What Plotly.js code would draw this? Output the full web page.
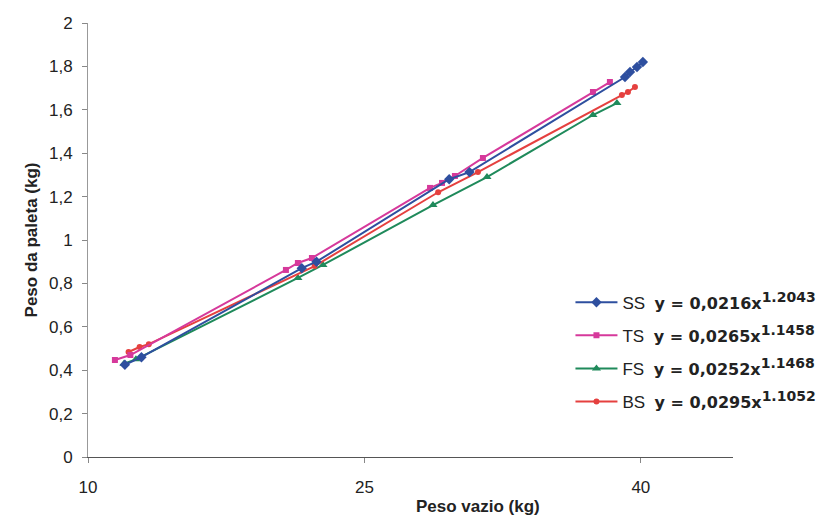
<!DOCTYPE html>
<html>
<head>
<meta charset="utf-8">
<script src="https://cdn.plot.ly/plotly-3.0.1.min.js"></script>
<style>html,body{margin:0;padding:0;background:#fff;}#chart{width:833px;height:520px;}</style>
</head>
<body>
<div id="chart"></div>
<script>
// Data
var seriesNames = ["SS", "TS", "FS", "BS"];
var eqCoef = ["y = 0,0216x", "y = 0,0265x", "y = 0,0252x", "y = 0,0295x"];
var eqExp = ["1.2043", "1.1458", "1.1468", "1.1052"];

var SS_x = [12.0, 12.9, 21.6, 22.4, 29.6, 30.7, 39.14, 39.41, 39.79, 40.11];
var SS_y = [0.425, 0.46, 0.87, 0.90, 1.28, 1.313, 1.751, 1.774, 1.797, 1.82];

var TS_x = [11.46, 12.3, 20.74, 21.39, 22.15, 28.56, 29.21, 29.91, 31.43, 37.40, 38.32];
var TS_y = [0.447, 0.47, 0.862, 0.894, 0.917, 1.240, 1.263, 1.295, 1.378, 1.682, 1.728];

var FS_x = [11.95, 12.6, 21.39, 22.75, 28.72, 31.65, 37.40, 38.70];
var FS_y = [0.43, 0.45, 0.825, 0.885, 1.161, 1.29, 1.576, 1.631];

var BS_x = [12.2, 12.8, 13.3, 22.3, 29.0, 31.16, 38.97, 39.30, 39.68];
var BS_y = [0.484, 0.507, 0.52, 0.88, 1.22, 1.313, 1.668, 1.682, 1.705];

var xTickVals = [10, 25, 40];
var xTickText = ["10", "25", "40"];
var yTickVals = [0, 0.2, 0.4, 0.6, 0.8, 1, 1.2, 1.4, 1.6, 1.8, 2];
var yTickText = ["0", "0,2", "0,4", "0,6", "0,8", "1", "1,2", "1,4", "1,6", "1,8", "2"];

var colors = ["#2E4F9F", "#D6399B", "#1F8A5B", "#E5403F"];
var symbols = ["diamond", "square", "triangle-up", "circle"];
var msizes = [8, 6, 8, 6];

var xs = [SS_x, TS_x, FS_x, BS_x];
var ys = [SS_y, TS_y, FS_y, BS_y];

function mk(i) {
  return {
    type: "scatter", mode: "lines+markers",
    x: xs[i], y: ys[i],
    name: seriesNames[i] + "&nbsp;&nbsp;<span style=\"font-family:'DejaVu Sans';font-size:16px;font-weight:bold\">" +
          eqCoef[i] + "<sup><span style=\"font-size:14px\">" + eqExp[i] + "</span></sup></span>",
    legendgroup: "g" + i,
    legendrank: i + 1,
    line: {color: colors[i], width: 2},
    marker: {color: colors[i], symbol: symbols[i], size: msizes[i]}
  };
}
// draw order: FS, BS, TS, SS (SS on top)
var data = [mk(2), mk(3), mk(1), mk(0)];

var layout = {
  width: 833, height: 520,
  margin: {l: 88, r: 100, t: 23, b: 63, autoexpand: false},
  paper_bgcolor: "#fff", plot_bgcolor: "#fff",
  font: {family: "Liberation Sans, Arial, sans-serif", color: "#222", size: 16},
  showlegend: true,
  legend: {
    x: 0.748, y: 0.397, xanchor: "left", yanchor: "top",
    bgcolor: "rgba(0,0,0,0)", borderwidth: 0,
    font: {size: 17, color: "#222"},
    traceorder: "grouped", tracegroupgap: 8,
    itemwidth: 42
  },
  xaxis: {
    range: [10, 45], tickvals: xTickVals, ticktext: xTickText,
    showgrid: false, zeroline: false, showline: true, linecolor: "#555", linewidth: 1,
    ticks: "outside", ticklen: 5, tickcolor: "#888",
    ticklabelstandoff: 10,
    tickfont: {size: 17, color: "#222"}
  },
  yaxis: {
    range: [0, 2], tickvals: yTickVals, ticktext: yTickText,
    showgrid: false, zeroline: false, showline: true, linecolor: "#999", linewidth: 1,
    ticks: "outside", ticklen: 5, tickcolor: "#888",
    ticklabelstandoff: 6,
    tickfont: {size: 17, color: "#222"},
    title: {text: "<b>Peso da paleta (kg)</b>", font: {size: 17, color: "#222"}, standoff: 7}
  },
  annotations: [{
    text: "<b>Peso vazio (kg)</b>", xref: "paper", yref: "paper",
    x: 0.605, y: -0.115, xanchor: "center", yanchor: "middle",
    showarrow: false, font: {size: 17, color: "#222"}
  }]
};

Plotly.newPlot("chart", data, layout, {displayModeBar: false, staticPlot: true});
</script>
</body>
</html>
